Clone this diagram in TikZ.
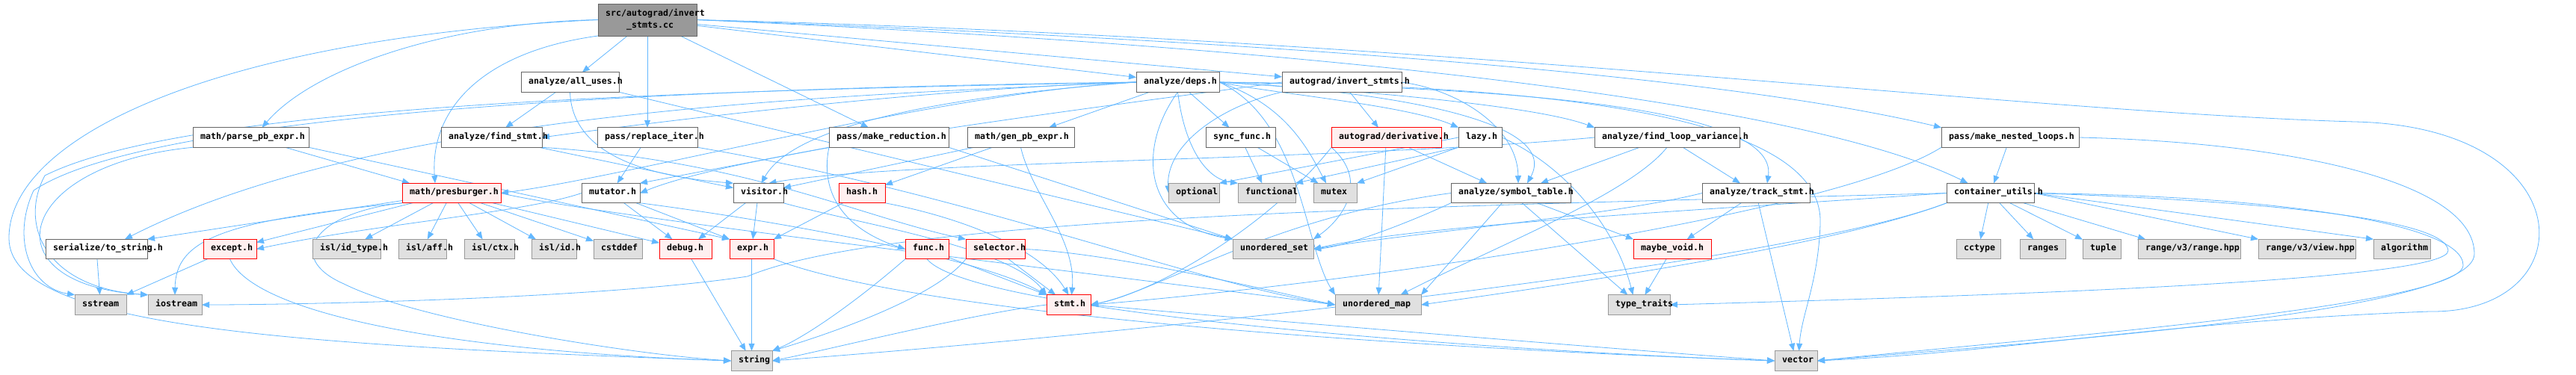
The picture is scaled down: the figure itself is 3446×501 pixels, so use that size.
\documentclass[tikz,border=0pt]{standalone}
\usepackage{fontspec}
\newfontfamily\lblfont{DejaVu Sans Mono}
\usetikzlibrary{arrows.meta}
\definecolor{edgec}{HTML}{63B8FF}
\definecolor{wbd}{HTML}{666666}
\definecolor{gfill}{HTML}{E0E0E0}
\definecolor{gbd}{HTML}{999999}
\definecolor{rfill}{HTML}{FFF0F0}
\definecolor{rbd}{HTML}{FF0000}
\definecolor{tfill}{HTML}{999999}
\pgfdeclarelayer{bg}
\pgfsetlayers{bg,main}
\tikzset{
 box/.style={rectangle, inner sep=0pt, outer sep=0pt, line width=0.9pt, minimum height=26.5pt},
 wbox/.style={box, draw=wbd, fill=white},
 gbox/.style={box, draw=gbd, fill=gfill},
 rbox/.style={box, draw=rbd, fill=rfill},
 tbox/.style={box, draw=wbd, fill=tfill},
 lbl/.style={anchor=mid west, inner sep=0pt, font=\lblfont\bfseries\fontsize{11.6pt}{13pt}\selectfont, text=black},
 e/.style={draw=edgec, line width=0.8pt, -{Triangle[length=10pt,width=8pt]}}
}
\newcommand\gnode[6]{%
 \node[#5, minimum width={(#3-#2)*1pt}] (#1) at ({(#2+#3)/2},#4) {};
 \node[lbl] at (#2+10,#4) {#6};}
\begin{document}
\begin{tikzpicture}[x=1pt,y=-1pt]
\useasboundingbox (0,0) rectangle (3446,501);
\begin{pgfonlayer}{bg}
\fill[white] (0,0) rectangle (3446,501);
\end{pgfonlayer}
% row 0
\node[tbox, minimum width=132pt, minimum height=43pt] (T) at (866,26.5) {};
\node[lbl] at (810,19) {src/autograd/invert};
\node[lbl] at (838,35) {\_stmts.cc};
% row 1
\gnode{AU}{697}{828}{110}{wbox}{analyze/all\_uses.h}
\gnode{D}{1520}{1631}{110}{wbox}{analyze/deps.h}
\gnode{AIS}{1715}{1875}{110}{wbox}{autograd/invert\_stmts.h}
% row 2
\gnode{PPE}{258}{413}{184}{wbox}{math/parse\_pb\_expr.h}
\gnode{FS}{590}{725}{184}{wbox}{analyze/find\_stmt.h}
\gnode{RI}{799}{933}{184}{wbox}{pass/replace\_iter.h}
\gnode{MR}{1109}{1269}{184}{wbox}{pass/make\_reduction.h}
\gnode{GPE}{1294}{1437}{184}{wbox}{math/gen\_pb\_expr.h}
\gnode{SF}{1613}{1706}{184}{wbox}{sync\_func.h}
\gnode{AD}{1781}{1928}{184}{rbox}{autograd/derivative.h}
\gnode{LZ}{1951}{2009}{184}{wbox}{lazy.h}
\gnode{FLV}{2133}{2327}{184}{wbox}{analyze/find\_loop\_variance.h}
\gnode{MNL}{2597}{2781}{184}{wbox}{pass/make\_nested\_loops.h}
% row 3
\gnode{PB}{538}{670}{258.5}{rbox}{math/presburger.h}
\gnode{MU}{778}{856}{258.5}{wbox}{mutator.h}
\gnode{VI}{981}{1048}{258.5}{wbox}{visitor.h}
\gnode{HA}{1122}{1184}{258.5}{rbox}{hash.h}
\gnode{OPT}{1563}{1631}{258.5}{gbox}{optional}
\gnode{FUN}{1656}{1733}{258.5}{gbox}{functional}
\gnode{MX}{1757}{1815}{258.5}{gbox}{mutex}
\gnode{ST}{1941}{2101}{258.5}{wbox}{analyze/symbol\_table.h}
\gnode{TS}{2277}{2421}{258.5}{wbox}{analyze/track\_stmt.h}
\gnode{CU}{2604}{2721}{258.5}{wbox}{container\_utils.h}
% row 4
\gnode{TOS}{61}{197}{333.5}{wbox}{serialize/to\_string.h}
\gnode{EX}{272}{343}{333.5}{rbox}{except.h}
\gnode{IDT}{418}{509}{333.5}{gbox}{isl/id\_type.h}
\gnode{AFF}{533}{597}{333.5}{gbox}{isl/aff.h}
\gnode{CTX}{621}{688}{333.5}{gbox}{isl/ctx.h}
\gnode{ID}{711}{771}{333.5}{gbox}{isl/id.h}
\gnode{CSD}{794}{859}{333.5}{gbox}{cstddef}
\gnode{DBG}{882}{952}{333.5}{rbox}{debug.h}
\gnode{EXP}{976}{1035}{333.5}{rbox}{expr.h}
\gnode{FUNC}{1211}{1269}{333.5}{rbox}{func.h}
\gnode{SEL}{1292}{1371}{333.5}{rbox}{selector.h}
\gnode{US}{1649}{1757}{333.5}{gbox}{unordered\_set}
\gnode{MV}{2185}{2289}{333.5}{rbox}{maybe\_void.h}
\gnode{CCT}{2617}{2676}{333.5}{gbox}{cctype}
\gnode{RNG}{2702}{2763}{333.5}{gbox}{ranges}
\gnode{TUP}{2786}{2837}{333.5}{gbox}{tuple}
\gnode{RR}{2860}{2997}{333.5}{gbox}{range/v3/range.hpp}
\gnode{RV}{3021}{3151}{333.5}{gbox}{range/v3/view.hpp}
\gnode{ALG}{3175}{3251}{333.5}{gbox}{algorithm}
% row 5
\gnode{SS}{100}{169}{408}{gbox}{sstream}
\gnode{IO}{198}{270}{408}{gbox}{iostream}
\gnode{STMT}{1400}{1459}{408}{rbox}{stmt.h}
\gnode{UM}{1786}{1901}{408}{gbox}{unordered\_map}
\gnode{TT}{2151}{2234}{408}{gbox}{type\_traits}
% row 6
\gnode{STR}{978}{1033}{483}{gbox}{string}
\gnode{VEC}{2374}{2431}{483}{gbox}{vector}

\begin{pgfonlayer}{bg}
% top node
\draw[e] (T) -- (AU);
\draw[e] (T) -- (RI);
\draw[e] (T) -- (MR);
\draw[e] (T) -- (D);
\draw[e] (T) -- (AIS);
\draw[e] (T.west) .. controls (600,30) and (420,90) .. ([xshift=15pt]PPE.north);
\draw[e] (T.south west) .. controls (640,70) and (575,150) .. ([xshift=-22pt]PB.north);
\draw[e] (T.west) .. controls (300,50) and (10,180) .. (12,320) .. controls (14,440) and (400,462) .. (STR.west);
\draw[e] (T.east) .. controls (1700,55) and (2300,100) .. (MNL.north west);
\draw[e] (T.east) .. controls (1700,60) and (2400,130) .. ([xshift=-30pt]CU.north);
\draw[e] (T.east) .. controls (1900,50) and (2700,150) .. (3150,163) .. controls (3460,170) and (3460,420) .. (3250,417) .. controls (2900,430) and (2700,470) .. (VEC.east);
% all_uses
\draw[e] (AU) -- (FS);
\draw[e] (AU.south) .. controls (765,200) and (850,235) .. (VI.north west);
\draw[e] (AU.south east) -- (US.north west);
% deps
\draw[e] (D) -- (GPE);
\draw[e] (D) -- (SF);
\draw[e] (D.south) .. controls (1585,200) and (1615,240) .. (FUN.north west);
\draw[e] (D.south) .. controls (1520,200) and (1530,300) .. (US.north west);
\draw[e] (D.east) .. controls (1720,140) and (1750,200) .. ([xshift=-12pt]MX.north);
\draw[e] (D.east) .. controls (1740,160) and (1745,330) .. (UM.north west);
\draw[e] (D.east) .. controls (2200,115) and (2440,180) .. (2435,300) .. controls (2432,380) and (2410,420) .. ([xshift=4pt]VEC.north);
\draw[e] (D.west) .. controls (1250,118) and (900,160) .. (FS.east);
\draw[e] (D.west) .. controls (1250,125) and (850,235) .. (PB.east);
\draw[e] (D.west) .. controls (1250,130) and (1060,170) .. ([xshift=4pt]VI.north);
\draw[e] (D.west) .. controls (1100,128) and (500,150) .. ([xshift=-30pt]TOS.north east);
\draw[e] (D.west) .. controls (900,122) and (250,140) .. (60,235) .. controls (25,300) and (60,385) .. (IO.north west);
\draw[e] (D.west) .. controls (900,118) and (200,150) .. (45,255) .. controls (15,320) and (40,385) .. (SS.north west);
\draw[e] (D.east) .. controls (1700,125) and (1880,140) .. (LZ.north west);
\draw[e] (D.east) .. controls (1800,120) and (2050,140) .. (FLV.north west);
\draw[e] (D.east) .. controls (1850,122) and (2090,160) .. ([xshift=22pt]ST.north);
\draw[e] (D.east) .. controls (2000,118) and (2380,140) .. ([xshift=15pt]TS.north);
% autograd/invert_stmts.h
\draw[e] (AIS) -- (AD);
\draw[e] (AIS.south west) .. controls (1640,140) and (1560,190) .. (OPT.west);
\draw[e] (AIS.west) .. controls (1500,140) and (1000,200) .. (MU.east);
\draw[e] (AIS.east) .. controls (1950,120) and (2030,170) .. ([xshift=10pt]ST.north);
% gen_pb_expr
\draw[e] (GPE) -- (HA);
\draw[e] (GPE) -- (VI);
\draw[e] (GPE.south) .. controls (1380,260) and (1440,320) .. ([xshift=4pt]STMT.north);
% sync_func
\draw[e] (SF) -- (FUN);
\draw[e] (SF) -- (MX);
% derivative
\draw[e] (AD) -- ([xshift=-32pt]ST.north);
\draw[e] (AD) -- (UM);
\draw[e] (AD.south west) .. controls (1830,240) and (1800,290) .. (US.north east);
\draw[e] (AD.south west) .. controls (1700,300) and (1550,390) .. (STMT.east);
% lazy
\draw[e] (LZ.south west) -- (MX.north east);
\draw[e] (LZ.south west) -- (FUN.north east);
\draw[e] (LZ.west) -- (OPT.north east);
\draw[e] (LZ.east) .. controls (2090,220) and (2160,300) .. ([xshift=-8pt]TT.north);
% find_loop_variance
\draw[e] (FLV) -- ([xshift=40pt]ST.north);
\draw[e] (FLV.south) .. controls (2180,260) and (2000,330) .. ([xshift=30pt]UM.north);
\draw[e] (FLV) -- (TS);
\draw[e] (FLV.west) .. controls (1800,215) and (1200,215) .. ([xshift=14pt]VI.north);
% make_nested_loops
\draw[e] (MNL) -- (CU);
\draw[e] (MNL.south west) .. controls (2450,290) and (1800,380) .. (STMT.east);
\draw[e] (MNL.east) .. controls (3050,190) and (3310,240) .. (3310,340) .. controls (3310,420) and (2700,460) .. (VEC.east);
% parse_pb_expr
\draw[e] (PPE) -- ([xshift=10pt]PB.north west);
\draw[e] (PPE.south east) -- (EXP.north west);
\draw[e] (PPE.south west) .. controls (20,220) and (-20,380) .. (IO.north west);
% find_stmt
\draw[e] (FS) -- (VI);
\draw[e] (FS.south east) .. controls (1000,215) and (1150,290) .. (SEL.north west);
% replace_iter
\draw[e] (RI) -- (MU);
\draw[e] (RI.south east) .. controls (1300,260) and (1600,380) .. (UM.west);
% make_reduction
\draw[e] (MR.south west) -- (MU.north east);
\draw[e] (MR.south west) .. controls (1100,240) and (1110,300) .. (FUNC.west);
\draw[e] (MR.south east) -- (US.north west);
% presburger
\draw[e] (PB) -- (TOS.north east);
\draw[e] (PB) -- (EX);
\draw[e] (PB.south west) .. controls (300,295) and (235,320) .. (IO.north);
\draw[e] (PB) -- (IDT);
\draw[e] (PB) -- (AFF);
\draw[e] (PB) -- (CTX);
\draw[e] (PB) -- (ID);
\draw[e] (PB) -- (CSD);
\draw[e] (PB) -- (DBG);
\draw[e] (PB.south west) .. controls (420,285) and (380,345) .. (460,380) .. controls (560,430) and (850,475) .. (STR.west);
\draw[e] (PB.east) .. controls (800,290) and (1500,370) .. (UM.west);
% mutator
\draw[e] (MU) -- (DBG);
\draw[e] (MU) -- (EXP.north west);
\draw[e] (MU.south east) .. controls (1000,290) and (1300,340) .. (STMT.north west);
\draw[e] (MU.west) .. controls (700,285) and (500,300) .. (EX.east);
% visitor
\draw[e] (VI) -- (DBG);
\draw[e] (VI) -- (EXP);
\draw[e] (VI.south east) .. controls (1150,300) and (1350,330) .. (STMT.north west);
% hash
\draw[e] (HA) -- (EXP.north east);
\draw[e] (HA.south east) .. controls (1280,290) and (1390,330) .. (STMT.north);
% leaves
\draw[e] (TOS) -- (SS);
\draw[e] (EX) -- (SS.north east);
\draw[e] (EX.south) .. controls (340,420) and (600,470) .. (STR.west);
\draw[e] (DBG) -- (STR);
\draw[e] (EXP) -- (STR);
\draw[e] (EXP.south east) .. controls (1250,430) and (2000,470) .. (VEC.west);
\draw[e] (FUNC) -- (STMT.north west);
\draw[e] (FUNC.south west) .. controls (1150,400) and (1080,450) .. (STR.north east);
\draw[e] (FUNC.south) .. controls (1300,420) and (2000,470) .. (VEC.west);
\draw[e] (SEL) -- (STMT);
\draw[e] (SEL.south west) .. controls (1250,400) and (1100,450) .. (STR.north east);
\draw[e] (SEL.east) .. controls (1500,340) and (1700,390) .. (UM.west);
\draw[e] (STMT.west) .. controls (1300,420) and (1100,470) .. (STR.east);
\draw[e] (STMT.east) .. controls (1700,430) and (2200,470) .. (VEC.west);
% symbol_table
\draw[e] (ST) -- (UM.north east);
\draw[e] (ST) -- (TT);
\draw[e] (ST) -- (MV.north west);
\draw[e] (ST.south west) .. controls (1880,300) and (1800,330) .. (US.east);
\draw[e] (ST.west) .. controls (1700,290) and (1550,390) .. (STMT.east);
% track_stmt
\draw[e] (TS) -- (MV);
\draw[e] (TS) -- (VEC);
\draw[e] (TS.west) .. controls (2150,290) and (1900,310) .. (US.east);
\draw[e] (MV) -- (TT);
% container_utils
\draw[e] (CU) -- (CCT);
\draw[e] (CU) -- (RNG);
\draw[e] (CU) -- (TUP);
\draw[e] (CU) -- ([xshift=10pt]RR.north west);
\draw[e] (CU.east) -- (RV.north west);
\draw[e] (CU.east) -- (ALG.north west);
\draw[e] (CU.west) .. controls (2000,275) and (1200,285) .. (1000,370) .. controls (800,400) and (400,408) .. (IO.east);
\draw[e] (CU.south west) .. controls (2400,350) and (1600,440) .. (STR.east);
\draw[e] (CU.south west) .. controls (2450,330) and (2100,380) .. (UM.east);
\draw[e] (CU.west) .. controls (2300,280) and (1900,300) .. (US.east);
\draw[e] (CU.east) .. controls (3000,268) and (3270,290) .. (3275,335) .. controls (3280,375) and (2700,395) .. (TT.east);
\draw[e] (CU.east) .. controls (3050,262) and (3295,300) .. (3295,355) .. controls (3295,410) and (2700,455) .. (VEC.east);
\end{pgfonlayer}
\end{tikzpicture}
\end{document}
